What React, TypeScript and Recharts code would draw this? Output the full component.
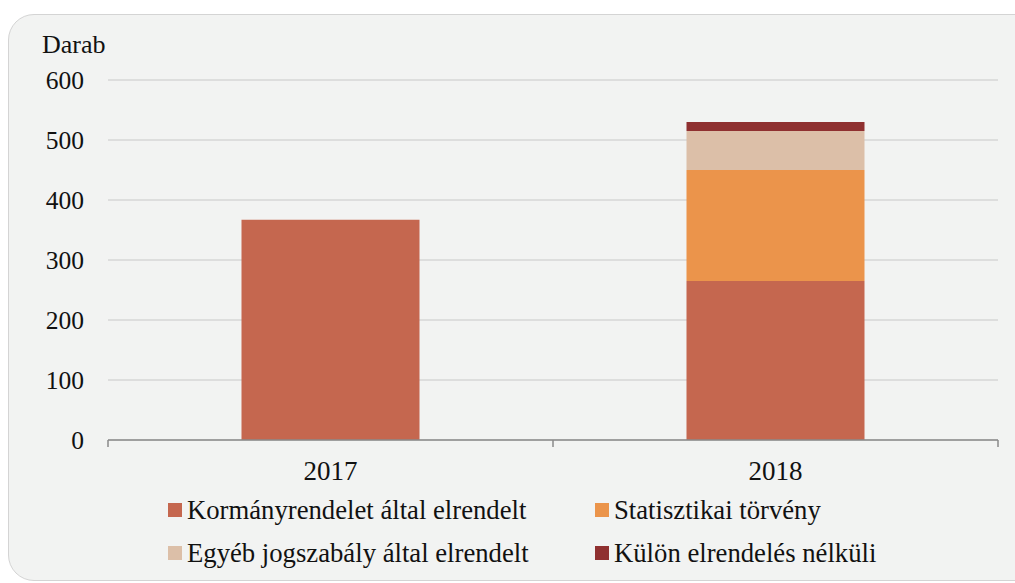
import React from 'react';
import { BarChart, Bar, XAxis, YAxis, CartesianGrid } from 'recharts';

const years = ['2017', '2018'];
const kormanyrendelet = [367, 265];
const statisztikai = [0, 185];
const egyeb = [0, 65];
const kulon = [0, 15];
const yTicks = [0, 100, 200, 300, 400, 500, 600];

const seriesNames = [
  'Kormányrendelet által elrendelt',
  'Statisztikai törvény',
  'Egyéb jogszabály által elrendelt',
  'Külön elrendelés nélküli',
];
const colors = ['#c5674f', '#eb944b', '#dcbfa8', '#8f3030'];

const data = years.map((year, i) => ({
  year,
  k: kormanyrendelet[i],
  s: statisztikai[i],
  e: egyeb[i],
  u: kulon[i],
}));

const font = '"Liberation Serif", "Times New Roman", serif';
const axisColor = '#8a8a8a';
const labelMargin = 21;

// category label plus the boundary tick marks between categories
const YearTick = (props: any) => {
  const { x, y, payload, index } = props;
  const half = payload && payload.offset ? payload.offset : 222.5;
  const axisY = y - labelMargin;
  return (
    <g>
      {index === 0 && (
        <line x1={x - half} x2={x - half} y1={axisY} y2={axisY + 7} stroke={axisColor} strokeWidth={1.5} />
      )}
      <line x1={x + half} x2={x + half} y1={axisY} y2={axisY + 7} stroke={axisColor} strokeWidth={1.5} />
      <text x={x} y={y} dy="0.71em" textAnchor="middle" fill="#111" fontSize={27} fontFamily={font}>
        {payload.value}
      </text>
    </g>
  );
};

const App: React.FC = () => {
  return (
    <div style={{ position: 'absolute', left: 0, top: 0, width: 1015, height: 583, background: '#fff', fontFamily: font, overflow: 'hidden' }}>
      <div
        style={{
          position: 'absolute',
          left: 8,
          top: 14,
          width: 1040,
          height: 565,
          background: '#f2f3f2',
          border: '1.5px solid #d4d4d4',
          borderRadius: 26,
        }}
      />
      <div style={{ position: 'absolute', left: 42, top: 30, fontSize: 26, color: '#111', lineHeight: 'normal' }}>Darab</div>
      <div style={{ position: 'absolute', left: 0, top: 0 }}>
        <BarChart
          width={1015}
          height={500}
          data={data}
          barCategoryGap="30%"
          margin={{ top: 80, right: 17, left: 0, bottom: 0 }}
        >
          <CartesianGrid vertical={false} stroke="#c8c8c8" strokeWidth={1} />
          <XAxis
            dataKey="year"
            height={60}
            axisLine={{ stroke: axisColor, strokeWidth: 1.5 }}
            tickLine={false}
            tickSize={0}
            tickMargin={labelMargin}
            tick={<YearTick />}
          />
          <YAxis
            width={108}
            domain={[0, 600]}
            ticks={yTicks}
            axisLine={false}
            tickLine={false}
            tickSize={0}
            tickMargin={24}
            tick={{ fill: '#111', fontSize: 25.5, fontFamily: font }}
          />
          <Bar dataKey="k" stackId="a" fill={colors[0]} isAnimationActive={false} />
          <Bar dataKey="s" stackId="a" fill={colors[1]} isAnimationActive={false} />
          <Bar dataKey="e" stackId="a" fill={colors[2]} isAnimationActive={false} />
          <Bar dataKey="u" stackId="a" fill={colors[3]} isAnimationActive={false} />
        </BarChart>
      </div>
      <div style={{ position: 'absolute', left: 168, top: 496, display: 'grid', gridTemplateColumns: '427px auto', rowGap: 15, fontSize: 26.7, color: '#111' }}>
        {seriesNames.map((name, i) => (
          <div key={name} style={{ display: 'flex', alignItems: 'center', height: 28, whiteSpace: 'nowrap' }}>
            <span style={{ width: 14, height: 14, background: colors[i], marginRight: 5, display: 'inline-block', flexShrink: 0 }} />
            <span>{name}</span>
          </div>
        ))}
      </div>
    </div>
  );
};

export default App;
